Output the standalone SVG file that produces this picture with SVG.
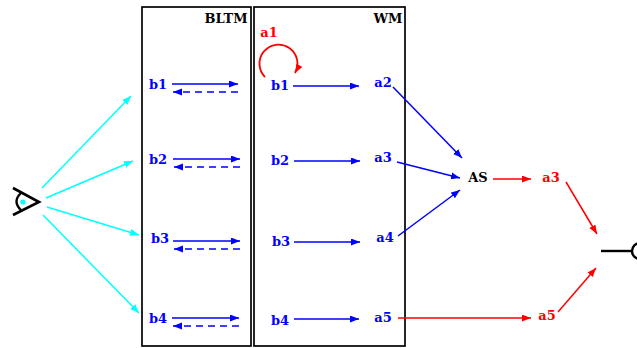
<svg xmlns="http://www.w3.org/2000/svg" width="637" height="348" viewBox="0 0 637 348">
<style>
.t{font-family:"DejaVu Serif","Liberation Serif",serif;font-weight:bold;font-size:13px;text-anchor:middle}
.bl{fill:#0000ff}.rd{fill:#ff0000}.bk{fill:#000}
.box{fill:none;stroke:#000;stroke-width:1.7}
.cb{stroke:#0000ff;stroke-width:1.5;fill:none}
.cc{stroke:#00ffff;stroke-width:1.5;fill:none}
.cr{stroke:#ff0000;stroke-width:1.5;fill:none}
.dash{stroke-dasharray:7,5}
</style>
<defs>
<marker id="mb" markerUnits="userSpaceOnUse" markerWidth="10" markerHeight="8" refX="9" refY="3.5" orient="auto"><path d="M0,0 L9,3.5 L0,7 z" fill="#0000ff"/></marker>
<marker id="mc" markerUnits="userSpaceOnUse" markerWidth="10" markerHeight="8" refX="9" refY="3.5" orient="auto"><path d="M0,0 L9,3.5 L0,7 z" fill="#00ffff"/></marker>
<marker id="mr" markerUnits="userSpaceOnUse" markerWidth="10" markerHeight="8" refX="9" refY="3.5" orient="auto"><path d="M0,0 L9,3.5 L0,7 z" fill="#ff0000"/></marker>
</defs>
<rect width="637" height="348" fill="#fff"/>
<g id="BLTM"><rect class="box" x="142" y="7" width="109" height="339"/><text class="t bk" x="226" y="23">BLTM</text></g>
<g id="WM"><rect class="box" x="254" y="7" width="151" height="339"/><text class="t bk" x="388" y="23">WM</text></g>
<g id="eye">
<polyline points="13,188 39,202 13,215" fill="none" stroke="#000" stroke-width="2.6"/>
<path d="M21,193 Q12,201.5 21,210" fill="none" stroke="#000" stroke-width="2.4"/>
<circle cx="23" cy="202" r="2.6" fill="#00ffff"/>
</g>
<g id="bltm-b1"><text class="t bl" x="158" y="89">b1</text></g>
<g id="bltm-b2"><text class="t bl" x="158" y="164">b2</text></g>
<g id="bltm-b3"><text class="t bl" x="160" y="243">b3</text></g>
<g id="bltm-b4"><text class="t bl" x="158" y="323">b4</text></g>
<g id="wm-b1"><text class="t bl" x="280" y="90">b1</text></g>
<g id="wm-b2"><text class="t bl" x="280" y="165">b2</text></g>
<g id="wm-b3"><text class="t bl" x="281" y="246">b3</text></g>
<g id="wm-b4"><text class="t bl" x="280" y="325">b4</text></g>
<g id="a1"><text class="t rd" x="269" y="37">a1</text></g>
<g id="wm-a2"><text class="t bl" x="383" y="87">a2</text></g>
<g id="wm-a3"><text class="t bl" x="383" y="162">a3</text></g>
<g id="wm-a4"><text class="t bl" x="385" y="242">a4</text></g>
<g id="wm-a5"><text class="t bl" x="383" y="322">a5</text></g>
<g id="AS"><text class="t bk" x="478" y="182">AS</text></g>
<g id="out-a3"><text class="t rd" x="551" y="182">a3</text></g>
<g id="out-a5"><text class="t rd" x="547" y="320">a5</text></g>
<g id="terminal">
<line x1="601" y1="251" x2="632" y2="251" stroke="#000" stroke-width="2.4"/>
<circle cx="640" cy="251" r="8" fill="#fff" stroke="#000" stroke-width="2.4"/>
</g>
<g id="connectors">
<line class="cc" x1="42" y1="188" x2="131" y2="96" marker-end="url(#mc)"/>
<line class="cc" x1="46" y1="198" x2="133" y2="161" marker-end="url(#mc)"/>
<line class="cc" x1="47" y1="207" x2="139" y2="235" marker-end="url(#mc)"/>
<line class="cc" x1="43" y1="215" x2="139" y2="313" marker-end="url(#mc)"/>
<line class="cb" x1="172" y1="84" x2="238" y2="84" marker-end="url(#mb)"/>
<line class="cb dash" x1="238" y1="92" x2="173" y2="92" marker-end="url(#mb)"/>
<line class="cb" x1="173" y1="159" x2="240" y2="159" marker-end="url(#mb)"/>
<line class="cb dash" x1="240" y1="167" x2="174" y2="167" marker-end="url(#mb)"/>
<line class="cb" x1="173" y1="241" x2="240" y2="241" marker-end="url(#mb)"/>
<line class="cb dash" x1="240" y1="249" x2="174" y2="249" marker-end="url(#mb)"/>
<line class="cb" x1="172" y1="318" x2="239" y2="318" marker-end="url(#mb)"/>
<line class="cb dash" x1="239" y1="326" x2="173" y2="326" marker-end="url(#mb)"/>
<path class="cr" d="M265,77 A19,19 0 1 1 295,73" marker-end="url(#mr)" style="stroke-width:1.8"/>
<line class="cb" x1="293" y1="86" x2="359" y2="86" marker-end="url(#mb)"/>
<line class="cb" x1="294" y1="161" x2="360" y2="161" marker-end="url(#mb)"/>
<line class="cb" x1="294" y1="242" x2="360" y2="242" marker-end="url(#mb)"/>
<line class="cb" x1="294" y1="319" x2="359" y2="319" marker-end="url(#mb)"/>
<line class="cb" x1="393" y1="87" x2="462" y2="158" marker-end="url(#mb)"/>
<line class="cb" x1="397" y1="162" x2="460" y2="178" marker-end="url(#mb)"/>
<line class="cb" x1="398" y1="236" x2="460" y2="190" marker-end="url(#mb)"/>
<line class="cr" x1="493" y1="179" x2="531" y2="179" marker-end="url(#mr)"/>
<line class="cr" x1="398" y1="318" x2="531" y2="318" marker-end="url(#mr)"/>
<line class="cr" x1="566" y1="182" x2="597" y2="234" marker-end="url(#mr)"/>
<line class="cr" x1="558" y1="312" x2="596" y2="268" marker-end="url(#mr)"/>
</g>
</svg>
